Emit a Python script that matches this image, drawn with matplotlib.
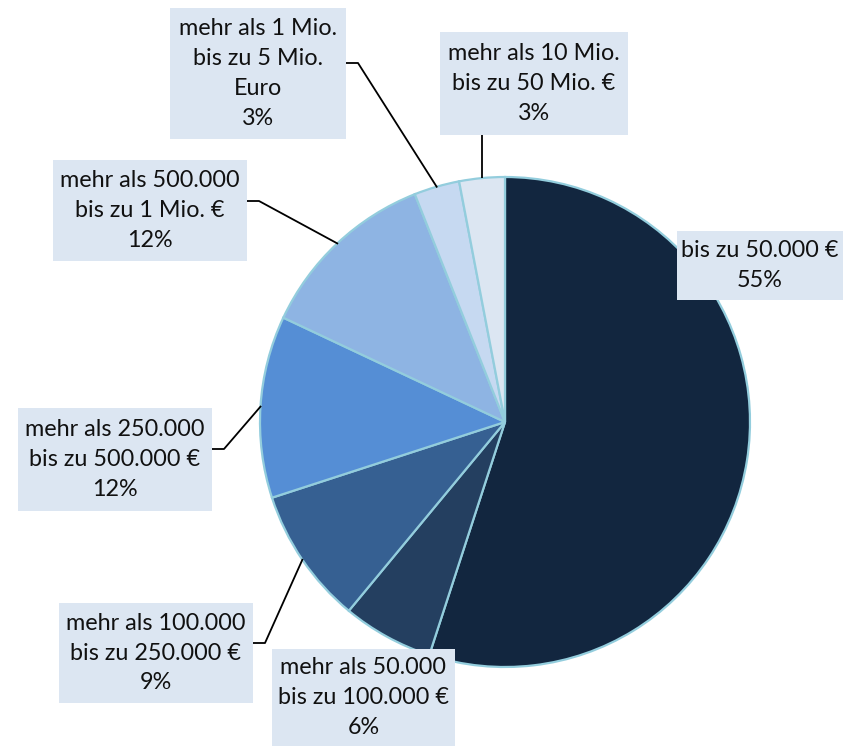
import numpy as np
import matplotlib
matplotlib.use("Agg")
import matplotlib.pyplot as plt
from matplotlib.patches import Rectangle

# ---- data ----
categories = [
    "bis zu 50.000 €",
    "mehr als 50.000\nbis zu 100.000 €",
    "mehr als 100.000\nbis zu 250.000 €",
    "mehr als 250.000\nbis zu 500.000 €",
    "mehr als 500.000\nbis zu 1 Mio. €",
    "mehr als 1 Mio.\nbis zu 5 Mio.\nEuro",
    "mehr als 10 Mio.\nbis zu 50 Mio. €",
]
values = [55, 6, 9, 12, 12, 3, 3]
colors = ["#12263F", "#243F60", "#366092", "#558ED5", "#8EB4E3", "#C6D9F1", "#DCE6F2"]

# ---- layout (pixel coords, origin top-left) ----
W, H = 843, 746
center_px = (505, 422)
radius_px = 245
# boxes: (x0, y0, x1, y1)
boxes = [
    (677, 231, 843, 300),
    (272, 649, 455, 746),
    (59, 603, 253, 703),
    (18, 408, 212, 511),
    (53, 160, 247, 261),
    (170, 8, 346, 139),
    (440, 32, 628, 135),
]
leaders = [
    None,
    None,
    [(253, 643), (265, 643)],
    [(212, 449), (224, 449)],
    [(247, 201), (259, 201)],
    [(346, 63), (358, 63)],
    "vertical",
]

plt.rcParams['font.family'] = ['Lato', 'DejaVu Sans']
fig = plt.figure(figsize=(W / 100, H / 100), dpi=100)
ax = fig.add_axes([0, 0, 1, 1])

def py(y):
    return H - y

wedges, _ = ax.pie(values, colors=colors, startangle=90, counterclock=False,
                   center=(center_px[0], py(center_px[1])), radius=radius_px,
                   wedgeprops=dict(edgecolor="#93CDDD", linewidth=1.6),
                   frame=True)
ax.set_xlim(0, W)
ax.set_ylim(0, H)
ax.set_aspect('equal')
ax.axis('off')

cx, cy = center_px[0], py(center_px[1])
for i, (cat, v) in enumerate(zip(categories, values)):
    w = wedges[i]
    mid = np.deg2rad((w.theta1 + w.theta2) / 2)
    ex = cx + radius_px * np.cos(mid)
    ey = cy + radius_px * np.sin(mid)
    x0, y0, x1, y1 = boxes[i]
    lead = leaders[i]
    if lead == "vertical":
        ax.plot([ex, ex], [py(y1), ey], color="black", lw=1.3, zorder=3,
                solid_capstyle='butt')
    elif lead is not None:
        xs = [p[0] for p in lead] + [ex]
        ys = [py(p[1]) for p in lead] + [ey]
        ax.plot(xs, ys, color="black", lw=1.3, zorder=3)
    ax.add_patch(Rectangle((x0, py(y1)), x1 - x0, y1 - y0,
                           facecolor="#DCE6F2", edgecolor="none", zorder=4,
                           clip_on=False))
    ax.text((x0 + x1) / 2, py((y0 + y1) / 2), f"{cat}\n{v}%",
            ha="center", va="center", fontsize=16.8, color="#111111",
            linespacing=1.52, zorder=5)

fig.savefig("out.png", dpi=100)
